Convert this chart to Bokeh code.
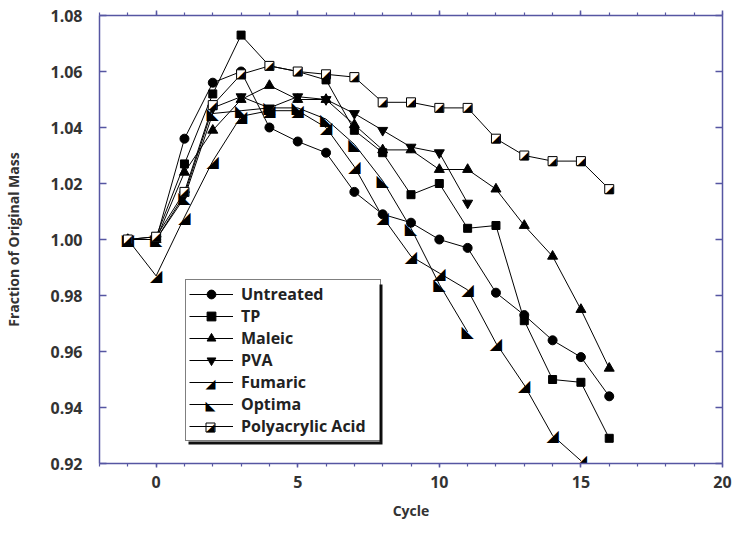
from bokeh.plotting import figure
from bokeh.models import (Range1d, LinearAxis, SingleIntervalTicker, NumeralTickFormatter,
                          CustomJSTickFormatter, Legend, LegendItem)
from bokeh.core.properties import value
from bokeh.embed import file_html
from bokeh.resources import INLINE

# ---- data ----
cycles_all = list(range(-1, 17))      # -1 .. 16
cycles_to11 = list(range(-1, 12))     # -1 .. 11
cycles_to15 = list(range(-1, 16))     # -1 .. 15

untreated = [1.000, 1.000, 1.036, 1.056, 1.060, 1.040, 1.035, 1.031, 1.017, 1.009,
             1.006, 1.000, 0.997, 0.981, 0.973, 0.964, 0.958, 0.944]
tp = [1.000, 1.001, 1.027, 1.052, 1.073, 1.062, 1.060, 1.057, 1.039, 1.031,
      1.016, 1.020, 1.004, 1.005, 0.971, 0.950, 0.949, 0.929]
maleic = [1.000, 1.000, 1.024, 1.039, 1.050, 1.055, 1.050, 1.050, 1.041, 1.032,
          1.032, 1.025, 1.025, 1.018, 1.005, 0.994, 0.975, 0.954]
pva = [1.000, 1.000, 1.016, 1.047, 1.051, 1.047, 1.051, 1.050, 1.045, 1.039,
       1.033, 1.031, 1.013]
fumaric = [1.000, 0.987, 1.008, 1.028, 1.044, 1.046, 1.046, 1.040, 1.026, 1.008,
           0.994, 0.988, 0.982, 0.963, 0.948, 0.930, 0.921]
optima = [1.000, 1.000, 1.015, 1.045, 1.046, 1.047, 1.047, 1.043, 1.034, 1.021,
          1.004, 0.984, 0.967]
polyacrylic = [1.000, 1.001, 1.017, 1.048, 1.059, 1.062, 1.060, 1.059, 1.058, 1.049,
               1.049, 1.047, 1.047, 1.036, 1.030, 1.028, 1.028, 1.018]

series_names = ["Untreated", "TP", "Maleic", "PVA", "Fumaric", "Optima", "Polyacrylic Acid"]

x_ticks_interval = 5
y_ticks_interval = 0.02

FONT = "Open Sans"
SYM_FONT = "DejaVu Sans"
AXIS_COLOR = "#5656a2"
TXT = "#333333"

# frame geometry (px)
W, H = 732, 540
FL, FR, FT, FB = 99, 10, 15, 77
FW, FH = W - FL - FR, H - FT - FB
X0, X1, Y0, Y1 = -2, 20, 0.92, 1.08

p = figure(width=W, height=H, output_backend="svg", toolbar_location=None,
           x_range=Range1d(X0, X1), y_range=Range1d(Y0, Y1),
           min_border_left=FL, min_border_right=FR, min_border_top=FT, min_border_bottom=FB)
p.outline_line_color = None
p.xgrid.visible = False
p.ygrid.visible = False
p.background_fill_color = "white"


def style_axis(ax):
    ax.axis_line_color = AXIS_COLOR
    ax.axis_line_width = 1.5
    ax.major_tick_line_color = AXIS_COLOR
    ax.major_tick_line_width = 1.5
    ax.minor_tick_line_color = AXIS_COLOR
    ax.minor_tick_line_width = 1.2
    ax.major_label_text_font = FONT
    ax.major_label_text_font_style = "bold"
    ax.major_label_text_font_size = "16px"
    ax.major_label_text_color = TXT
    ax.axis_label_text_font = FONT
    ax.axis_label_text_font_style = "bold"
    ax.axis_label_text_font_size = "14px"
    ax.axis_label_text_color = TXT


xa = p.xaxis[0]
xa.ticker = SingleIntervalTicker(interval=x_ticks_interval, num_minor_ticks=5)
style_axis(xa)
xa.major_tick_out = 4
xa.major_tick_in = 0
xa.minor_tick_out = 3
xa.minor_tick_in = 0
xa.major_label_standoff = 8
xa.axis_label = "Cycle"
xa.axis_label_standoff = 10

ya = p.yaxis[0]
ya.ticker = SingleIntervalTicker(interval=y_ticks_interval, num_minor_ticks=0)
ya.formatter = NumeralTickFormatter(format="0.00")
style_axis(ya)
ya.major_tick_in = 7
ya.major_tick_out = 0
ya.minor_tick_in = 0
ya.minor_tick_out = 0
ya.major_label_standoff = 17
ya.axis_label = "Fraction of Original Mass"
ya.axis_label_standoff = 24

empty = CustomJSTickFormatter(code="return ''")

ta = LinearAxis(ticker=SingleIntervalTicker(interval=x_ticks_interval, num_minor_ticks=5),
                formatter=empty)
style_axis(ta)
ta.major_tick_out = 5
ta.major_tick_in = 0
ta.minor_tick_out = 3
ta.minor_tick_in = 0
ta.major_label_text_font_size = "0px"
ta.major_label_standoff = 0
p.add_layout(ta, "above")

ra = LinearAxis(ticker=SingleIntervalTicker(interval=y_ticks_interval, num_minor_ticks=0),
                formatter=empty)
style_axis(ra)
ra.major_tick_in = 7
ra.major_tick_out = 0
ra.minor_tick_in = 0
ra.minor_tick_out = 0
ra.major_label_text_font_size = "0px"
ra.major_label_standoff = 0
p.add_layout(ra, "right")

# ---- legend geometry (px relative to the frame's bottom-left) ----
N_ITEMS = len(series_names)
LEG_X, LEG_Y, PAD, ROW, GW, LW, STANDOFF = 86, 22, 3, 22, 44, 136, 8
leg_w = 2 * PAD + GW + STANDOFF + LW
leg_h = 2 * PAD + ROW * N_ITEMS
SH = 3  # shadow offset


def dx(px):
    return X0 + px * (X1 - X0) / FW


def dy(py):
    return Y0 + py * (Y1 - Y0) / FH


# legend shadow and white box (drawn beneath the transparent legend)
p.quad(left=[dx(LEG_X + SH)], right=[dx(LEG_X + leg_w + SH)],
       bottom=[dy(LEG_Y - SH)], top=[dy(LEG_Y + leg_h - SH)],
       fill_color="#111111", line_color=None)
p.quad(left=[dx(LEG_X)], right=[dx(LEG_X + leg_w)],
       bottom=[dy(LEG_Y)], top=[dy(LEG_Y + leg_h)],
       fill_color="white", line_color=None)

items = []
SYM_SIZE = "16px"
HALF_SIZE = "11px"


def line(xs, ys):
    return p.line(xs, ys, line_color="black", line_width=1)


def marks(xs, ys, marker, size):
    return p.scatter(xs, ys, marker=marker, size=size,
                     fill_color="black", line_color="black", line_width=1)


def sym(xs, ys, char, size):
    return p.text(xs, ys, text=value(char), text_font=value(SYM_FONT),
                  text_font_size=size, text_align="center", text_baseline="middle",
                  text_color="black")


def half_square(xs, ys):
    p.scatter(xs, ys, marker="square", size=9,
              fill_color="white", line_color="black", line_width=1)
    sym(xs, ys, "◢", HALF_SIZE)


r = line(cycles_all, untreated); s = marks(cycles_all, untreated, "circle", 9)
items.append(LegendItem(label=series_names[0], renderers=[r, s]))
r = line(cycles_all, tp); s = marks(cycles_all, tp, "square", 8)
items.append(LegendItem(label=series_names[1], renderers=[r, s]))
r = line(cycles_all, maleic); s = marks(cycles_all, maleic, "triangle", 10)
items.append(LegendItem(label=series_names[2], renderers=[r, s]))
r = line(cycles_to11, pva); s = marks(cycles_to11, pva, "inverted_triangle", 10)
items.append(LegendItem(label=series_names[3], renderers=[r, s]))
r = line(cycles_to15, fumaric); sym(cycles_to15, fumaric, "◢", SYM_SIZE)
items.append(LegendItem(label=series_names[4], renderers=[r]))
r = line(cycles_to11, optima); sym(cycles_to11, optima, "◣", SYM_SIZE)
items.append(LegendItem(label=series_names[5], renderers=[r]))
r = line(cycles_all, polyacrylic); half_square(cycles_all, polyacrylic)
items.append(LegendItem(label=series_names[6], renderers=[r]))

legend = Legend(items=items, location=(LEG_X, LEG_Y))
legend.border_line_color = "black"
legend.border_line_width = 1.5
legend.background_fill_alpha = 0.0
legend.label_text_font = FONT
legend.label_text_font_style = "bold"
legend.label_text_font_size = "16px"
legend.label_text_color = "#222222"
legend.glyph_width = GW
legend.glyph_height = ROW
legend.label_height = ROW
legend.label_width = LW
legend.label_standoff = STANDOFF
legend.spacing = 0
legend.padding = PAD
legend.margin = 0
p.add_layout(legend, "center")

# custom symbols for the legend rows (Fumaric, Optima, Polyacrylic Acid)
gx = LEG_X + PAD + GW / 2
top_y = LEG_Y + leg_h - PAD


def row_y(idx):
    return dy(top_y - ROW * idx - ROW / 2)


sym([dx(gx)], [row_y(4)], "◢", "13px")
sym([dx(gx)], [row_y(5)], "◣", "13px")
half_square([dx(gx)], [row_y(6)])

open("out.html", "w").write(file_html(p, INLINE))
